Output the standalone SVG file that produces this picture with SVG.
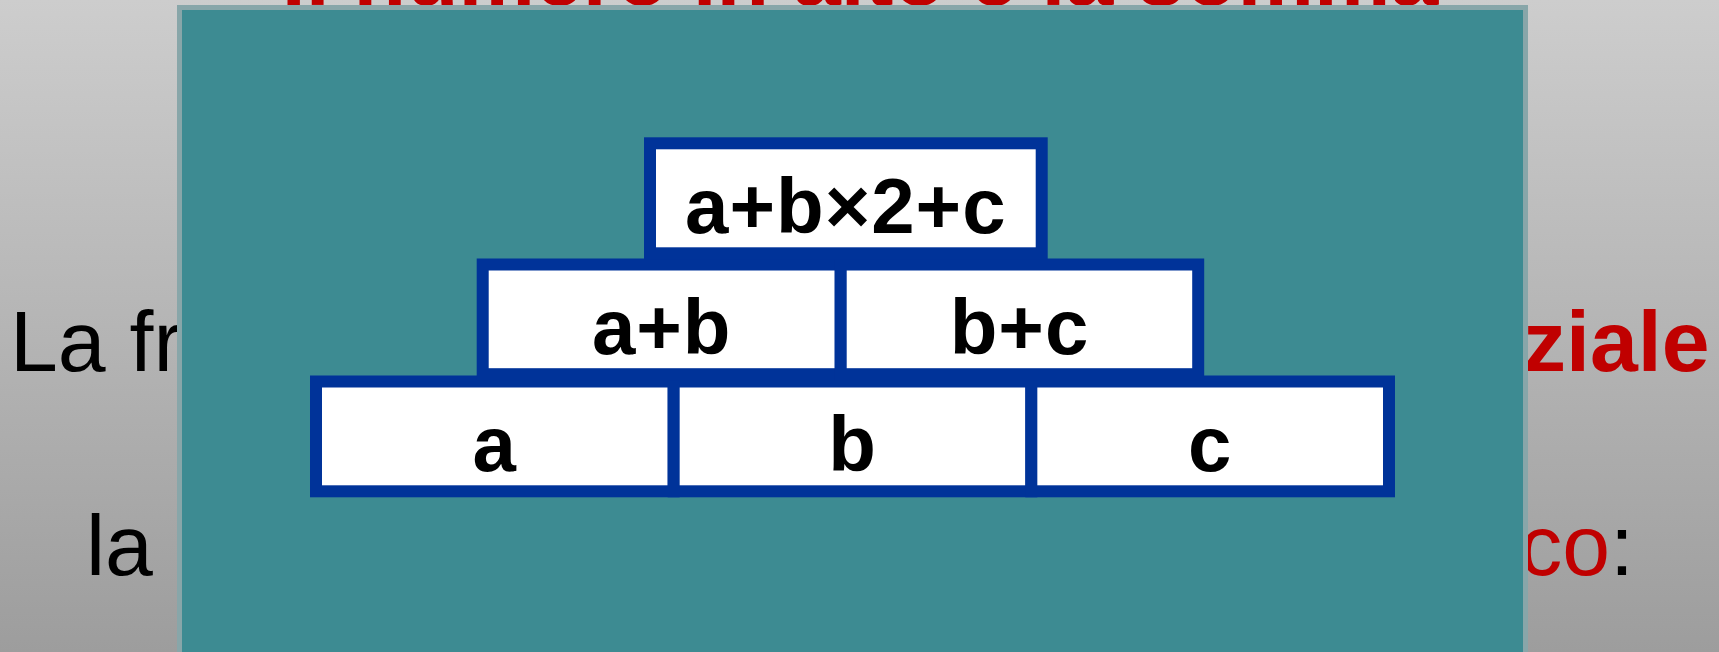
<svg xmlns="http://www.w3.org/2000/svg" width="1719" height="652" viewBox="0 0 1719 652">
  <defs>
    <linearGradient id="bg" x1="0" y1="0" x2="0" y2="1">
      <stop offset="0" stop-color="#CDCDCD"/>
      <stop offset="1" stop-color="#9D9D9D"/>
    </linearGradient>
    <style>
      .body { font-family: "Liberation Sans", Arial, sans-serif; font-size: 86px; fill: #000; }
      .red { fill: #C00000; }
      .bold { font-weight: bold; }
      .brick rect { fill: #FFFFFF; stroke: #003399; stroke-width: 12; }
      .brick text { font-family: "Liberation Sans", Arial, sans-serif; font-weight: bold; font-size: 78px; letter-spacing: 1px; fill: #000; text-anchor: middle; }
    </style>
  </defs>

  <rect x="0" y="0" width="1719" height="652" fill="url(#bg)"/>

  <g id="slide-text">
    <text class="body bold red" x="860" y="5" text-anchor="middle" font-size="87">Il numero in alto è la somma</text>
    <text class="body" x="10" y="370.7">La fr</text>
    <text class="body bold red" x="1709.5" y="370.7" text-anchor="end" font-size="88">ziale</text>
    <text class="body" x="86" y="575">la</text>
    <text class="body" x="1634" y="575" text-anchor="end"><tspan class="red">co</tspan><tspan>:</tspan></text>
  </g>

  <g id="panel">
    <rect x="179.5" y="7.5" width="1346" height="660" fill="#3D8B92" stroke="#88A6A9" stroke-width="5"/>
  </g>

  <g id="connectors"/>

  <g id="brick-a" class="brick">
    <rect x="316" y="381.5" width="357.67" height="109.8"/>
    <text x="494.8" y="470.7">a</text>
  </g>
  <g id="brick-b" class="brick">
    <rect x="673.67" y="381.5" width="357.67" height="109.8"/>
    <text x="852.5" y="470.7">b</text>
  </g>
  <g id="brick-c" class="brick">
    <rect x="1031.33" y="381.5" width="357.67" height="109.8"/>
    <text x="1210.3" y="470.7">c</text>
  </g>

  <g id="brick-ab" class="brick">
    <rect x="482.7" y="264.5" width="358" height="109.7"/>
    <text x="661.7" y="354">a+b</text>
  </g>
  <g id="brick-bc" class="brick">
    <rect x="840.7" y="264.5" width="357.5" height="109.7"/>
    <text x="1019.5" y="354">b+c</text>
  </g>

  <g id="brick-top" class="brick">
    <rect x="650" y="143.3" width="391.7" height="110"/>
    <text x="845.8" y="232.7">a+b×2+c</text>
  </g>
</svg>
